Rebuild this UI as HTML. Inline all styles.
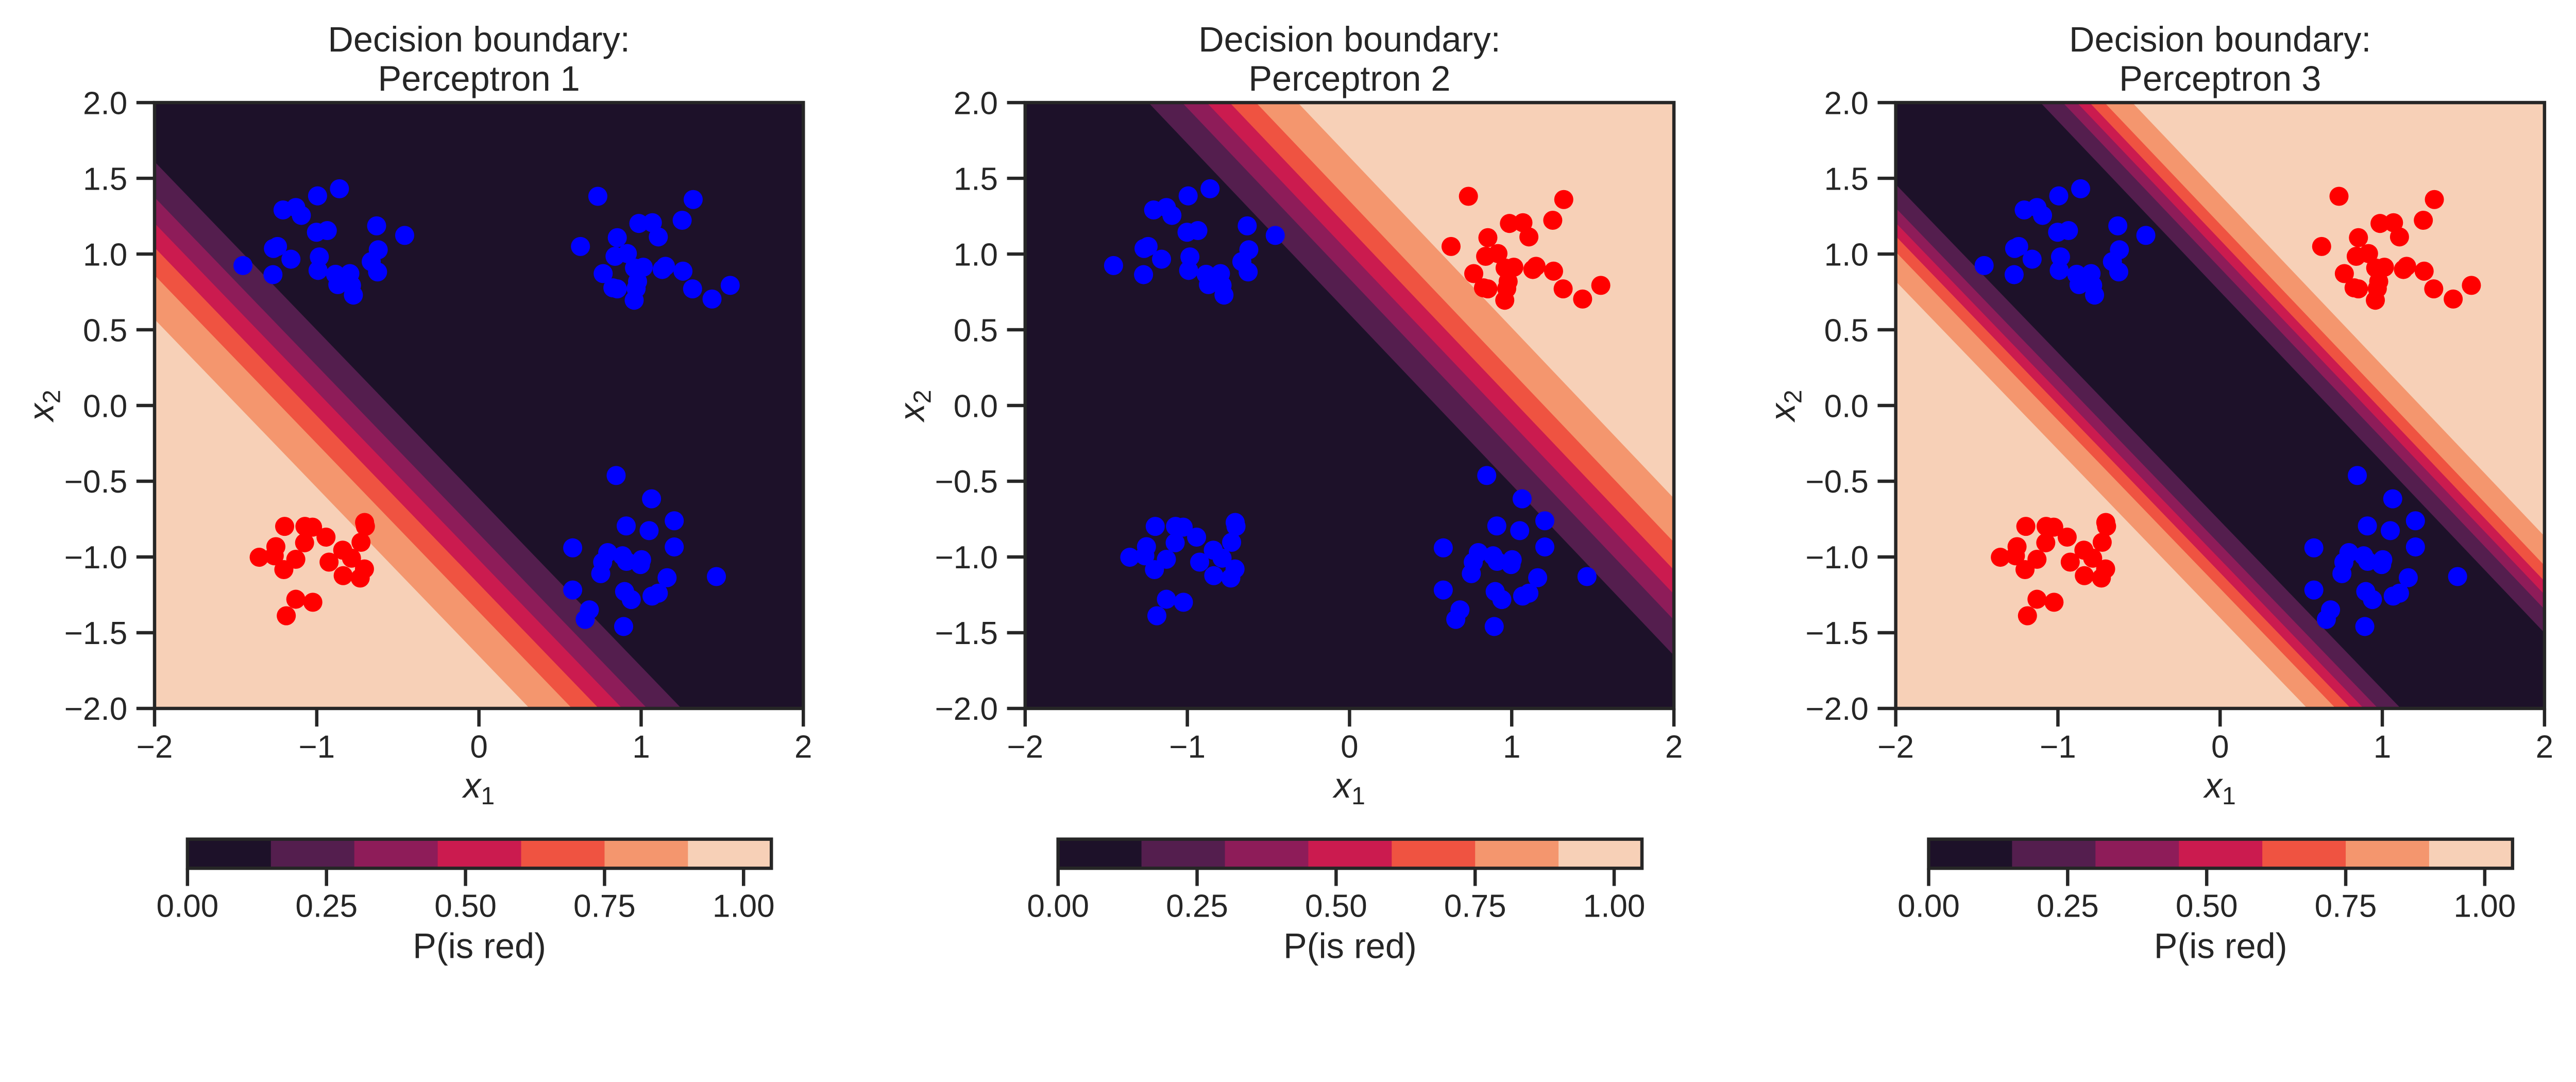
<!DOCTYPE html>
<html><head><meta charset="utf-8"><style>
html,body{margin:0;padding:0;background:#fff;overflow:hidden;}
svg{display:block;width:100vw;height:calc(100vw * 2100 / 5400);}
text{font-family:"Liberation Sans",Arial,sans-serif;fill:#262626;}
</style></head>
<body>
<svg id="fig" xmlns="http://www.w3.org/2000/svg" viewBox="0 0 5400 2100" preserveAspectRatio="xMinYMin meet"></svg>
<script>
// ---- data ----
const xTicks=[-2,-1,0,1,2];
const xTickLabels=["\u22122","\u22121","0","1","2"];
const yTicks=[2.0,1.5,1.0,0.5,0.0,-0.5,-1.0,-1.5,-2.0];
const yTickLabels=["2.0","1.5","1.0","0.5","0.0","\u22120.5","\u22121.0","\u22121.5","\u22122.0"];
const levels=[0,0.15,0.3,0.45,0.6,0.75,0.9,1.05];
const cbTicks=[0,0.25,0.5,0.75,1.0];
const cbTickLabels=["0.00","0.25","0.50","0.75","1.00"];
const panelTitles=["Perceptron 1","Perceptron 2","Perceptron 3"];
// perceptron weights [w_x1, w_x2, bias]
const weightsP1=[-4.2,-3.78,-4.05];
const weightsP2=[4.27,3.79,-4.02];
// perceptron 3 on hidden outputs [w_h1, w_h2, bias]
const weightsP3=[7.28,7.28,-3.46];
// clusters
const tlX=[-0.860,-0.995,-1.208,-1.129,-1.095,-1.002,-0.935,-0.631,-0.458,-1.267,-1.242,-1.159,-1.455,-1.270,-0.984,-0.992,-0.621,-0.664,-0.625,-0.884,-0.796,-0.870,-0.786,-0.774];
const tlY=[1.431,1.384,1.291,1.307,1.255,1.144,1.155,1.186,1.123,1.037,1.050,0.966,0.924,0.864,0.981,0.892,1.028,0.950,0.882,0.866,0.871,0.798,0.793,0.729];
const trX=[0.733,1.321,1.253,0.986,1.069,1.106,0.853,0.626,0.839,0.915,0.959,1.013,1.150,1.130,1.258,0.766,0.978,0.826,0.853,0.969,1.317,1.549,1.437,0.957];
const trY=[1.381,1.360,1.223,1.202,1.207,1.113,1.108,1.050,0.985,1.003,0.908,0.913,0.919,0.898,0.887,0.871,0.819,0.777,0.770,0.772,0.770,0.793,0.703,0.695];
const brX=[0.846,1.064,0.908,1.049,1.204,1.204,0.578,0.794,0.763,0.885,0.910,1.003,0.996,0.751,1.160,1.464,0.578,0.898,0.939,1.067,1.106,0.681,0.655,0.892];
const brY=[-0.462,-0.616,-0.795,-0.826,-0.761,-0.934,-0.940,-0.971,-1.034,-0.992,-1.029,-1.018,-1.050,-1.110,-1.137,-1.129,-1.218,-1.228,-1.281,-1.258,-1.239,-1.349,-1.412,-1.459];
const blX=[-1.198,-1.073,-1.026,-0.943,-1.075,-1.252,-1.355,-1.262,-1.129,-1.203,-0.705,-0.700,-0.727,-0.840,-0.924,-0.786,-0.706,-0.837,-0.732,-1.129,-1.024,-1.188];
const blY=[-0.798,-0.798,-0.803,-0.869,-0.906,-0.932,-1.002,-0.992,-1.015,-1.083,-0.772,-0.798,-0.903,-0.955,-1.034,-1.008,-1.079,-1.123,-1.139,-1.279,-1.299,-1.388];
// which clusters are red per panel (order: tl, tr, br, bl)
const redP1=[0,0,0,1];
const redP2=[0,1,0,0];
const redP3=[0,1,0,1];

// ---- styles ----
const bandColors=["#1d1129","#541e4e","#8e1c59","#cb1b4f","#ef5341","#f4966e","#f7d0b7"];
const NS="http://www.w3.org/2000/svg";
const svg=document.getElementById("fig");
const AX_W=1360,AX_H=1270,AX_TOP=215,PANEL_DX=1825,AX_LEFT0=324;
const CB_W=1224,CB_TOP=1759,CB_H=61,CB_LEFT0=393;
function el(tag,attrs,parent){const e=document.createElementNS(NS,tag);for(const k in attrs)e.setAttribute(k,attrs[k]);(parent||svg).appendChild(e);return e;}
const logit=p=>Math.log(p/(1-p));
function clipHalf(a,b,c){
  let poly=[[-2,-2],[2,-2],[2,2],[-2,2]];const out=[];
  const f=p=>a*p[0]+b*p[1]+c;
  for(let i=0;i<poly.length;i++){const P=poly[i],Q=poly[(i+1)%poly.length];const fp=f(P),fq=f(Q);
    if(fp>=0)out.push(P);
    if((fp>=0)!==(fq>=0)){const t=fp/(fp-fq);out.push([P[0]+t*(Q[0]-P[0]),P[1]+t*(Q[1]-P[1])]);}}
  return out;}

const clusters=[[tlX,tlY],[trX,trY],[brX,brY],[blX,blY]];
const reds=[redP1,redP2,redP3];

for(let pi=0;pi<3;pi++){
  const L=AX_LEFT0+pi*PANEL_DX;
  const sx=v=>L+(v+2)/4*AX_W, sy=v=>AX_TOP+(2-v)/4*AX_H;
  const g=el("g",{});
  
  
  const bg=el("rect",{x:L,y:AX_TOP,width:AX_W,height:AX_H,fill:bandColors[0]},g);
  
  
  for(let k=1;k<=6;k++){
    const t=levels[k];let planes=[];
    if(pi===0)planes.push([weightsP1[0],weightsP1[1],weightsP1[2]-logit(t)]);
    else if(pi===1)planes.push([weightsP2[0],weightsP2[1],weightsP2[2]-logit(t)]);
    else{
      const hs=[weightsP1,weightsP2];
      for(let h=0;h<2;h++){const ht=(logit(t)-weightsP3[2])/weightsP3[h];
        if(ht<=0){planes.push([0,0,1]);}
        else if(ht<1){const W=hs[h];planes.push([W[0],W[1],W[2]-logit(ht)]);}}
    }
    planes.forEach(pl=>{const poly=clipHalf(pl[0],pl[1],pl[2]);if(poly.length<3)return;
      const pg=el("polygon",{points:poly.map(p=>sx(p[0]).toFixed(1)+","+sy(p[1]).toFixed(1)).join(" "),fill:bandColors[k]},g);
      
      });
  }
  clusters.forEach((c,ci)=>{const col=reds[pi][ci]?"#ff0000":"#0000ff";
    for(let j=0;j<c[0].length;j++){const pt=el("circle",{cx:sx(c[0][j]).toFixed(1),cy:sy(c[1][j]).toFixed(1),r:20,fill:col},g);
      
      }});
  const fr=el("rect",{x:L,y:AX_TOP,width:AX_W,height:AX_H,fill:"none",stroke:"#262626","stroke-width":7},g);
  
  
  xTicks.forEach((v,i)=>{const x=sx(v);
    const tk=el("line",{x1:x,y1:AX_TOP+AX_H,x2:x,y2:AX_TOP+AX_H+38,stroke:"#262626","stroke-width":7},g);
    
    
    const tl=el("text",{x:x,y:1588,"font-size":67,"text-anchor":"middle"},g);tl.textContent=xTickLabels[i];
    
    });
  yTicks.forEach((v,i)=>{const y=sy(v);
    const tk=el("line",{x1:L-38,y1:y,x2:L,y2:y,stroke:"#262626","stroke-width":7},g);
    
    
    const tl=el("text",{x:L-57,y:y+24,"font-size":67,"text-anchor":"end"},g);tl.textContent=yTickLabels[i];
    
    });
  const cx=L+AX_W/2;
  const t1=el("text",{x:cx,y:108,"font-size":74,"text-anchor":"middle"},g);t1.textContent="Decision boundary:";
  
  
  const t2=el("text",{x:cx,y:190,"font-size":74,"text-anchor":"middle"},g);t2.textContent=panelTitles[pi];
  
  
  const xl=el("text",{x:cx,y:1672,"font-size":74,"text-anchor":"middle"},g);
  xl.innerHTML='<tspan font-style="italic">x</tspan><tspan font-size="52" dy="14">1</tspan>';
  
  
  const yl=el("text",{x:0,y:0,"font-size":74,"text-anchor":"middle",transform:"translate("+(L-212)+","+(AX_TOP+AX_H/2)+") rotate(-90)"},g);
  yl.innerHTML='<tspan font-style="italic">x</tspan><tspan font-size="52" dy="14">2</tspan>';
  
  
  const CL=CB_LEFT0+pi*PANEL_DX;const cbx=v=>CL+v/1.05*CB_W;
  const cg=el("g",{},g);
  
  
  for(let k=0;k<7;k++){const r=el("rect",{x:cbx(levels[k]),y:CB_TOP,width:cbx(levels[k+1])-cbx(levels[k])+0.5,height:CB_H,fill:bandColors[k]},cg);
    
    }
  const cf=el("rect",{x:CL,y:CB_TOP,width:CB_W,height:CB_H,fill:"none",stroke:"#262626","stroke-width":7},cg);
  
  
  cbTicks.forEach((v,i)=>{const x=cbx(v);
    const tk=el("line",{x1:x,y1:CB_TOP+CB_H,x2:x,y2:CB_TOP+CB_H+37,stroke:"#262626","stroke-width":7},cg);
    
    
    const tl=el("text",{x:x,y:1922,"font-size":67,"text-anchor":"middle"},cg);tl.textContent=cbTickLabels[i];
    
    });
  const cl=el("text",{x:CL+CB_W/2,y:2008,"font-size":74,"text-anchor":"middle"},cg);cl.textContent="P(is red)";
  
  
}
</script>
</body></html>
